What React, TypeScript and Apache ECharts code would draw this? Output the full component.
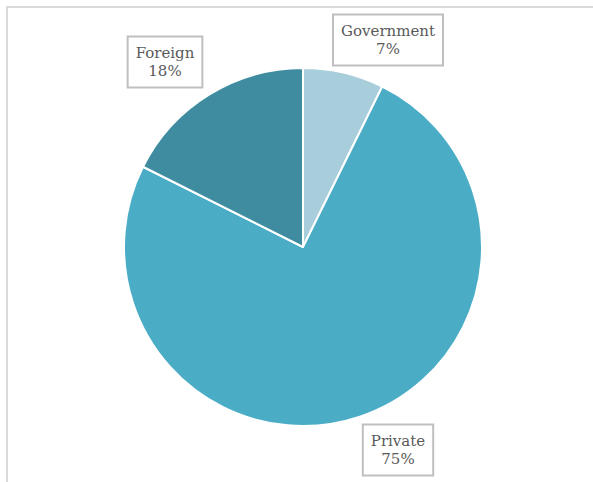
import React, { useEffect, useRef } from "react";
import * as echarts from "echarts";

const categories = ["Government", "Private", "Foreign"];
const shares = [7.3, 75.1, 17.6];
const sliceColors = ["#A8CEDB", "#4BACC6", "#3F8CA1"];
const labelCenters: [number, number][] = [
  [388, 40],
  [398, 450],
  [165, 62],
];

export default function App() {
  const ref = useRef<HTMLDivElement>(null);
  useEffect(() => {
    if (!ref.current) return;
    const chart = echarts.init(ref.current, undefined, { renderer: "svg" });
    chart.setOption({
      animation: false,
      backgroundColor: "#FFFFFF",
      graphic: [
        {
          type: "rect",
          shape: { x: 7, y: 7, width: 700, height: 700 },
          style: { fill: "none", stroke: "#D9D9D9", lineWidth: 2 },
          silent: true,
          z: 0,
        },
      ],
      series: [
        {
          type: "pie",
          center: [303, 247],
          radius: 179,
          startAngle: 90,
          clockwise: true,
          percentPrecision: 0,
          itemStyle: { borderColor: "#FFFFFF", borderWidth: 2 },
          label: {
            show: true,
            position: "outside",
            formatter: "{b}\n{d}%",
            fontFamily: "DejaVu Serif",
            fontSize: 15,
            lineHeight: 18,
            color: "#595959",
            align: "center",
            backgroundColor: "#FFFFFF",
            borderColor: "#BFBFBF",
            borderWidth: 2,
            padding: [7, 7, 6, 7],
          },
          labelLine: { show: false },
          labelLayout: (p: any) => {
            const c = labelCenters[p.dataIndex];
            return { x: c[0], y: c[1], align: "center", verticalAlign: "middle" };
          },
          data: categories.map((name, i) => ({
            name,
            value: shares[i],
            itemStyle: { color: sliceColors[i] },
          })),
        },
      ],
    });
    return () => chart.dispose();
  }, []);
  return (
    <div
      ref={ref}
      style={{ position: "fixed", left: 0, top: 0, width: 593, height: 482 }}
    />
  );
}
